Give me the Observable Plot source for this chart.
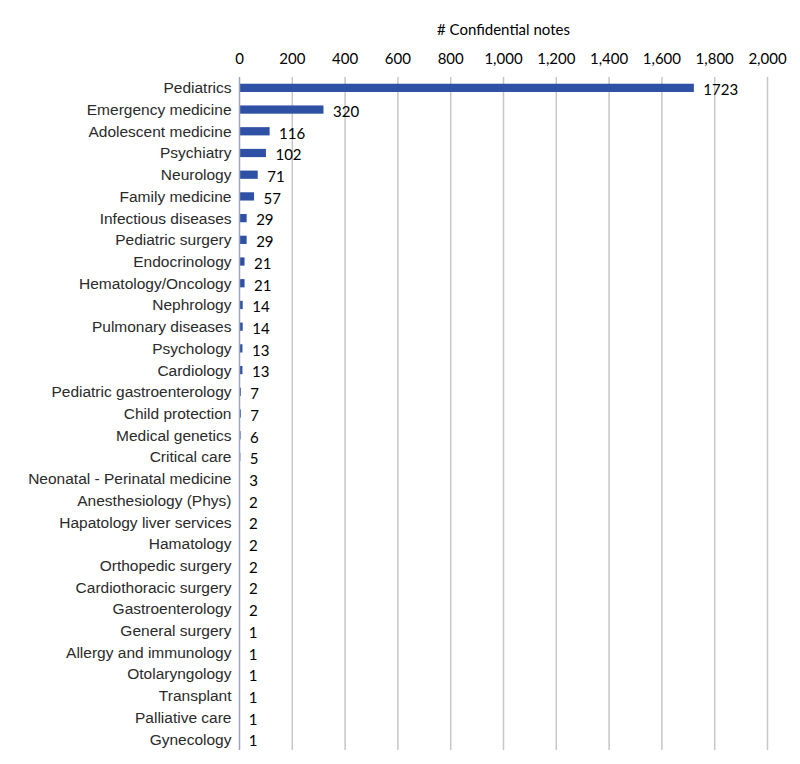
<!DOCTYPE html>
<html>
<head>
<meta charset="utf-8">
<script src="https://cdn.jsdelivr.net/npm/d3@7"></script>
<script src="https://cdn.jsdelivr.net/npm/@observablehq/plot@0.6"></script>
<style>
  html, body { margin: 0; padding: 0; background: #fff; }
  #chart svg { display: block; }
</style>
</head>
<body>
<div id="chart"></div>
<script>
const specialties = [
  "Pediatrics", "Emergency medicine", "Adolescent medicine", "Psychiatry", "Neurology",
  "Family medicine", "Infectious diseases", "Pediatric surgery", "Endocrinology",
  "Hematology/Oncology", "Nephrology", "Pulmonary diseases", "Psychology", "Cardiology",
  "Pediatric gastroenterology", "Child protection", "Medical genetics", "Critical care",
  "Neonatal - Perinatal medicine", "Anesthesiology (Phys)", "Hapatology liver services",
  "Hamatology", "Orthopedic surgery", "Cardiothoracic surgery", "Gastroenterology",
  "General surgery", "Allergy and immunology", "Otolaryngology", "Transplant",
  "Palliative care", "Gynecology"
];
const notes = [
  1723, 320, 116, 102, 71, 57, 29, 29, 21, 21, 14, 14, 13, 13, 7, 7, 6, 5, 3,
  2, 2, 2, 2, 2, 2, 1, 1, 1, 1, 1, 1
];
const xTicks = [0, 200, 400, 600, 800, 1000, 1200, 1400, 1600, 1800, 2000];
const xTitle = "# Confidential notes";

const data = specialties.map((s, i) => ({specialty: s, value: notes[i]}));

const chart = Plot.plot({
  width: 800,
  height: 764,
  marginTop: 77,
  marginBottom: 14,
  marginLeft: 239,
  marginRight: 33,
  style: {fontFamily: "Lato, sans-serif", fontSize: "15px", color: "#000", background: "#fff"},
  x: {domain: [0, 2000], ticks: xTicks},
  y: {domain: specialties, paddingInner: 0.62, paddingOuter: 0.31, round: false},
  marks: [
    Plot.gridX(xTicks.filter(d => d > 0), {stroke: "#c6c6c6", strokeOpacity: 1, strokeWidth: 1.5}),
    Plot.axisX(xTicks, {anchor: "top", tickSize: 0, tickPadding: 14, label: null,
      tickFormat: d => d3.format(",")(d), fontSize: 15, fill: "#000"}),
    Plot.text([xTitle], {frameAnchor: "top", dy: -53, fontSize: 15, fill: "#000"}),
    Plot.axisY({tickSize: 0, tickPadding: 8, label: null, fontFamily: "'Liberation Sans', Arial, sans-serif", fontSize: 15.5, fill: "#2a2a2a"}),
    Plot.barX(data, {x: "value", y: "specialty", fill: "#2f51a5"}),
    Plot.ruleX([0], {stroke: "#9aa6c0", strokeWidth: 1.5}),
    Plot.text(data, {x: "value", y: "specialty", text: d => String(d.value), textAnchor: "start", dx: 9, dy: 2, fontSize: 15, fill: "#000"})
  ]
});
document.getElementById("chart").appendChild(chart);
</script>
</body>
</html>
